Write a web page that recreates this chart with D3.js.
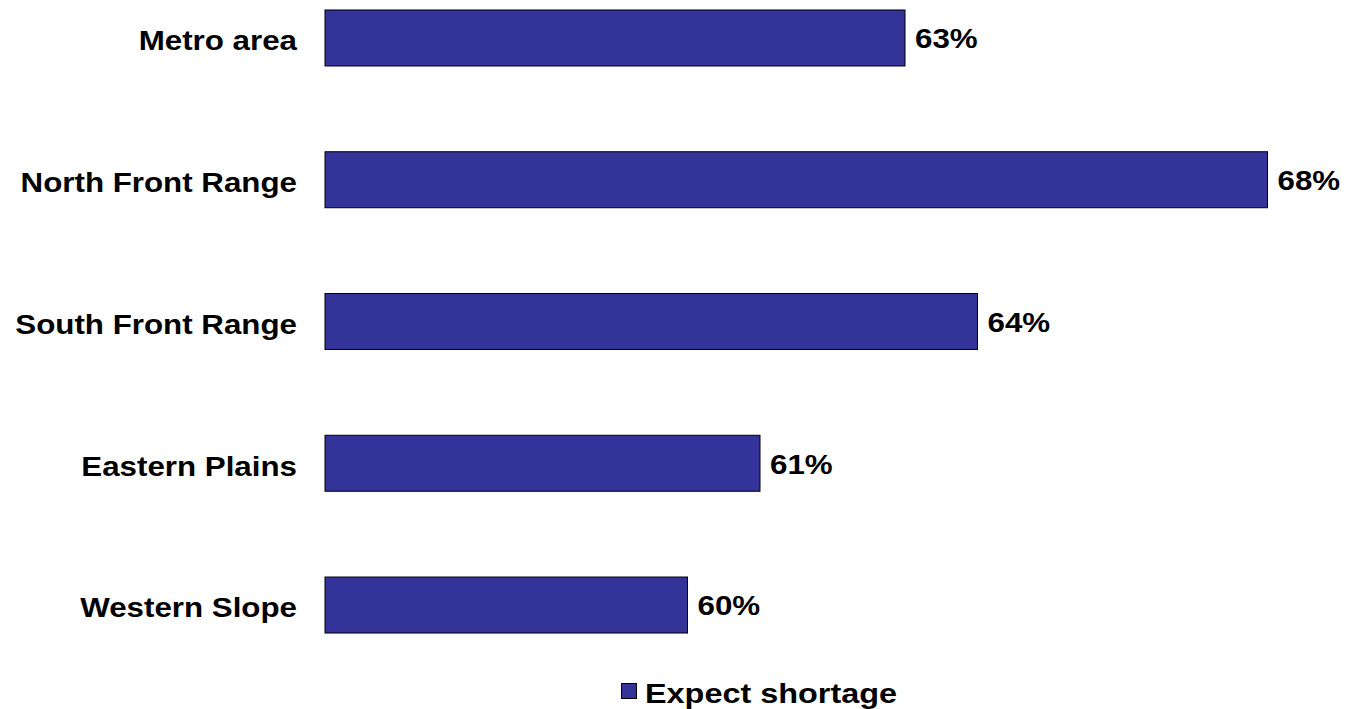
<!DOCTYPE html>
<html><head><meta charset="utf-8">
<script src="https://cdn.jsdelivr.net/npm/d3@7"></script>
<style>body{margin:0;background:#fff}svg{display:block;font-family:Arial,"Liberation Sans",sans-serif}</style>
</head><body>
<svg id="c" width="1346" height="709"></svg>
<script>
const categories = ["Metro area","North Front Range","South Front Range","Eastern Plains","Western Slope"];
const values = [63,68,64,61,60];
const seriesName = "Expect shortage";

const FS = 27, SX = 1.16;
const svg = d3.select("#c");
const x = d3.scaleLinear().domain([55,70]).range([325,325+15*72.5]);
const y = d3.scaleBand().domain(categories).range([-32.9,675.9]).paddingInner(0.605).paddingOuter(0.3025);

svg.selectAll("rect.bar").data(values).join("rect").attr("class","bar")
  .attr("x", x(55)).attr("y",(d,i)=>y(categories[i]))
  .attr("width", d=>x(d)-x(55)).attr("height", y.bandwidth())
  .attr("fill","#333399").attr("stroke","#000").attr("stroke-width",1);

svg.selectAll("g.cat").data(categories).join("g").attr("class","cat")
  .attr("transform",d=>`translate(297,${y(d)+y.bandwidth()/2+3}) scale(${SX},1)`)
  .append("text").attr("dy","0.35em")
  .attr("text-anchor","end").attr("font-weight","bold").attr("font-size",FS).text(d=>d);

svg.selectAll("g.val").data(values).join("g").attr("class","val")
  .attr("transform",(d,i)=>`translate(${x(d)+10},${y(categories[i])+y.bandwidth()/2+1}) scale(${SX},1)`)
  .append("text").attr("dy","0.35em")
  .attr("font-weight","bold").attr("font-size",FS).text(d=>d+"%");

const lg = svg.append("g");
lg.append("rect").attr("x",621.5).attr("y",683.5).attr("width",15).attr("height",15)
  .attr("fill","#333399").attr("stroke","#000").attr("stroke-width",1);
lg.append("g").attr("transform",`translate(645,703) scale(1.2,1)`)
  .append("text").attr("font-weight","bold").attr("font-size",FS).text(seriesName);
</script>
</body></html>
